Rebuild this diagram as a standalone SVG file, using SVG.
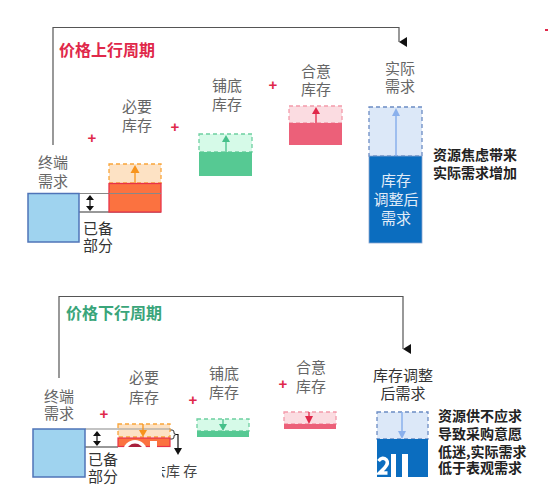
<svg xmlns="http://www.w3.org/2000/svg" width="548" height="498" viewBox="0 0 548 498">
<style>
.lbl{font-family:"Noto Sans CJK SC","Noto Sans",sans-serif;font-size:15px;fill:#666;text-anchor:middle}
.st{text-anchor:start}
.dk{fill:#333}
.note{font-family:"Noto Sans CJK SC","Noto Sans",sans-serif;font-size:14px;font-weight:bold;fill:#222}
.ttl{font-family:"Noto Sans CJK SC","Noto Sans",sans-serif;font-size:16px;font-weight:bold}
.plus{font-family:"Liberation Sans",sans-serif;font-size:15px;font-weight:bold;fill:#e0284a;text-anchor:middle;dominant-baseline:central}
.wt{font-family:"Noto Sans CJK SC","Noto Sans",sans-serif;font-size:15px;fill:#e2ecf8;text-anchor:middle}
.ln{fill:none;stroke:#555;stroke-width:1.2}
.dash{stroke-dasharray:4 3;stroke-width:1.3}
</style>
<defs>
<marker id="ah" markerWidth="10" markerHeight="10" refX="5" refY="8" orient="auto" markerUnits="userSpaceOnUse" viewBox="0 0 10 10"><path d="M0,0 L10,0 L5,8 Z" fill="#111"/></marker>
<clipPath id="oc"><rect x="118" y="437" width="52" height="10"/></clipPath>
</defs>
<rect width="548" height="498" fill="#fff"/>

<g id="connectors">
<path class="ln" d="M53,145 V27.5 H399 V42" marker-end="url(#ah)"/>
<path class="ln" d="M59,378 V296.5 H403 V349" marker-end="url(#ah)"/>
<line x1="79" y1="193.5" x2="161" y2="193.5" stroke="#888" stroke-width="1.2"/>
<line x1="79" y1="212" x2="161" y2="212" stroke="#333" stroke-width="1.2"/>
<line x1="85" y1="429" x2="170" y2="429" stroke="#888" stroke-width="1.2"/>
<line x1="85" y1="447" x2="118" y2="447" stroke="#333" stroke-width="1.2"/>
<g id="dbl1"><line x1="90" y1="199" x2="90" y2="207" stroke="#111" stroke-width="1.2"/><path d="M86,200 L94,200 L90,195 Z M86,206 L94,206 L90,211 Z" fill="#111"/></g>
<g id="dbl2"><line x1="97" y1="435" x2="97" y2="442" stroke="#111" stroke-width="1.2"/><path d="M93,436 L101,436 L97,431 Z M93,441 L101,441 L97,446 Z" fill="#111"/></g>
<path d="M170,430 h2 q2,0 2,2 v1.5 l2,1 l-2,1 v1.5 q0,2 -2,2 h-2" fill="none" stroke="#333" stroke-width="1"/>
<path d="M176,434.5 H178 V448" fill="none" stroke="#111" stroke-width="1.2"/>
<path d="M174,448 L182,448 L178,455 Z" fill="#111"/>
</g>

<g id="up-title"><text class="ttl" x="59" y="56" fill="#e0284a">价格上行周期</text></g>
<g id="down-title"><text class="ttl" x="66" y="319" fill="#3aa57a">价格下行周期</text></g>

<g id="plus-marks">
<text class="plus" x="92" y="137">+</text>
<text class="plus" x="175" y="126">+</text>
<text class="plus" x="273" y="84">+</text>
<rect x="545" y="29" width="3" height="2" fill="#e0284a"/>
<text class="plus" x="104" y="413">+</text>
<text class="plus" x="193" y="399">+</text>
<text class="plus" x="283" y="383">+</text>
</g>

<!-- upper cycle -->
<g id="up-end-demand">
<text class="lbl" x="53" y="167.5">终端<tspan x="53" dy="19">需求</tspan></text>
<rect x="28" y="193.5" width="51" height="48.5" fill="#9fd3ef" stroke="#4f74b8" stroke-width="1.5"/>
<text class="lbl dk st" x="83" y="233.5">已备<tspan x="83" dy="17">部分</tspan></text>
</g>
<g id="up-necessary">
<text class="lbl" x="137" y="111.5">必要<tspan x="137" dy="19">库存</tspan></text>
<rect x="109" y="164" width="52" height="19" fill="#fde2c4" stroke="#f9a53a" class="dash"/>
<rect x="109" y="183.5" width="52" height="28.5" fill="#fb7240" stroke="#e8334a" stroke-width="1.3"/>
<line x1="109" y1="193.5" x2="161" y2="193.5" stroke="#888" stroke-width="1"/>
<line x1="135" y1="183" x2="135" y2="172" stroke="#f7941d" stroke-width="1.3"/>
<path d="M130.5,173 L139.5,173 L135,165 Z" fill="#f7941d"/>
</g>
<g id="up-base">
<text class="lbl" x="227" y="90.5">铺底<tspan x="227" dy="19">库存</tspan></text>
<rect x="199" y="134" width="53" height="18" fill="#d6fae8" stroke="#6ed0a0" class="dash"/>
<rect x="199" y="152" width="53" height="24" fill="#56c993"/>
<line x1="226" y1="152" x2="226" y2="142" stroke="#45c08a" stroke-width="1.3"/>
<path d="M222,142 L230,142 L226,135 Z" fill="#45c08a"/>
</g>
<g id="up-desired">
<text class="lbl" x="316" y="76.5">合意<tspan x="316" dy="18">库存</tspan></text>
<rect x="289" y="106" width="53" height="17" fill="#fbdce1" stroke="#f39aaa" class="dash"/>
<rect x="289" y="123" width="53" height="22" fill="#ec6079"/>
<line x1="316" y1="123" x2="316" y2="114" stroke="#e0284a" stroke-width="1.3"/>
<path d="M312,114 L320,114 L316,107 Z" fill="#e0284a"/>
</g>
<g id="up-actual">
<text class="lbl" x="400" y="73.5">实际<tspan x="400" dy="18">需求</tspan></text>
<rect x="369" y="107" width="53" height="49" fill="#dce8f8" stroke="#6b8cc4" class="dash"/>
<rect x="369" y="156" width="53" height="87" fill="#0b6dbf" stroke="#8aa6d0" stroke-width="0.8"/>
<line x1="396" y1="156" x2="396" y2="115" stroke="#8ab0ec" stroke-width="1.5"/>
<path d="M392,116 L400,116 L396,108 Z" fill="#8ab0ec"/>
<text class="wt" x="396" y="185.5">库存<tspan x="396" dy="19">调整后</tspan><tspan x="396" dy="19">需求</tspan></text>
<text class="note" x="433" y="159.5">资源焦虑带来<tspan x="433" dy="18">实际需求增加</tspan></text>
</g>

<!-- lower cycle -->
<g id="down-end-demand">
<text class="lbl" x="59" y="401.5">终端<tspan x="59" dy="17">需求</tspan></text>
<rect x="33" y="429" width="52" height="48" fill="#9fd3ef" stroke="#4f74b8" stroke-width="1.5"/>
<text class="lbl dk st" x="88" y="464.5">已备<tspan x="88" dy="17">部分</tspan></text>
</g>
<g id="down-necessary">
<text class="lbl" x="144" y="382.5">必要<tspan x="144" dy="20">库存</tspan></text>
<rect x="118" y="424" width="52" height="13" fill="#fde2c4" stroke="#f9a53a" class="dash"/>
<rect x="118" y="438" width="52" height="8.5" fill="#fb7240" stroke="#e8334a" stroke-width="1.2"/>
<line x1="118" y1="429" x2="170" y2="429" stroke="#999" stroke-width="1"/>
<line x1="143" y1="424" x2="143" y2="430" stroke="#f7941d" stroke-width="1.3"/>
<path d="M139,430 L147,430 L143,437 Z" fill="#f7941d"/>
<circle cx="135" cy="452" r="12" fill="#fff"/>
<circle cx="135" cy="452" r="8.5" fill="#a8203c" clip-path="url(#oc)"/>
<rect x="150" y="441" width="7" height="7" fill="#fff"/>
<text x="152" y="475.5" font-family="'Noto Sans CJK SC',sans-serif" font-size="14" fill="#444">去库 存</text>
<rect x="146" y="458" width="16" height="22" fill="#fff"/>
</g>
<g id="down-base">
<text class="lbl" x="224" y="378.5">铺底<tspan x="224" dy="19">库存</tspan></text>
<rect x="197" y="419" width="52" height="12" fill="#d6fae8" stroke="#6ed0a0" class="dash"/>
<rect x="197" y="431" width="52" height="6" fill="#56c993"/>
<line x1="223" y1="419" x2="223" y2="424" stroke="#45c08a" stroke-width="1.3"/>
<path d="M219,424 L227,424 L223,431 Z" fill="#45c08a"/>
</g>
<g id="down-desired">
<text class="lbl" x="311" y="372.5">合意<tspan x="311" dy="19">库存</tspan></text>
<rect x="284" y="412" width="52" height="12" fill="#fbdce1" stroke="#f39aaa" class="dash"/>
<rect x="284" y="424" width="52" height="5" fill="#ec6079"/>
<line x1="309" y1="412" x2="309" y2="417" stroke="#e0284a" stroke-width="1.3"/>
<path d="M305,416 L313,416 L309,424 Z" fill="#e0284a"/>
</g>
<g id="down-adjusted">
<text class="lbl dk" x="403" y="380.5">库存调整<tspan x="403" dy="18">后需求</tspan></text>
<rect x="377" y="412" width="51" height="27" fill="#dce8f8" stroke="#6b8cc4" class="dash"/>
<rect x="377" y="439" width="51" height="38" fill="#0b6dbf"/>
<line x1="402" y1="412" x2="402" y2="432" stroke="#8ab0ec" stroke-width="1.5"/>
<path d="M398,431 L406,431 L402,439 Z" fill="#8ab0ec"/>
<path d="M378.5,461 q4,-5 8,-1 q2.5,3 -2,8 l-5,5 h8" fill="none" stroke="#fff" stroke-width="3.5"/>
<rect x="391" y="454" width="5" height="24" fill="#fff"/>
<rect x="402" y="454" width="6" height="24" fill="#fff"/>
<text class="note" x="438" y="420.5">资源供不应求<tspan x="438" dy="18">导致采购意愿</tspan><tspan x="438" dy="18">低迷,实际需求</tspan><tspan x="438" dy="16">低于表观需求</tspan></text>
</g>
</svg>
